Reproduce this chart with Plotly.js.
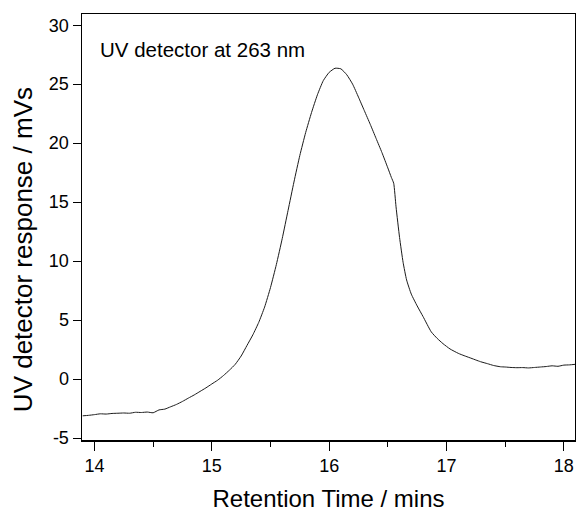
<!DOCTYPE html>
<html>
<head>
<meta charset="utf-8">
<script src="https://cdn.plot.ly/plotly-3.0.1.min.js"></script>
<style>html,body{margin:0;padding:0;background:#fff;}#chart{width:576px;height:516px;}</style>
</head>
<body>
<div id="chart"></div>
<script>
const retentionTime = [13.90,13.95,14.00,14.05,14.10,14.15,14.20,14.25,14.30,14.35,14.40,14.45,14.50,14.55,14.60,14.65,14.70,14.75,14.80,14.85,14.90,14.95,15.00,15.05,15.10,15.15,15.20,15.25,15.30,15.35,15.40,15.45,15.50,15.55,15.60,15.65,15.70,15.75,15.80,15.85,15.90,15.95,16.00,16.05,16.10,16.15,16.20,16.25,16.30,16.35,16.40,16.45,16.50,16.53,16.55,16.57,16.60,16.63,16.66,16.70,16.75,16.80,16.87,16.92,16.97,17.03,17.10,17.15,17.20,17.29,17.35,17.40,17.46,17.50,17.55,17.60,17.65,17.70,17.75,17.80,17.85,17.90,17.95,18.00,18.05,18.10];
const response = [-3.12,-3.08,-3.02,-2.95,-2.97,-2.92,-2.90,-2.88,-2.90,-2.82,-2.84,-2.80,-2.86,-2.62,-2.55,-2.35,-2.15,-1.90,-1.62,-1.35,-1.05,-0.75,-0.42,-0.10,0.30,0.75,1.25,1.95,2.85,3.75,4.80,6.10,7.75,9.70,11.90,14.30,16.70,18.95,20.90,22.60,24.10,25.30,26.00,26.35,26.30,25.80,25.00,23.90,22.75,21.60,20.40,19.20,17.90,17.10,16.60,14.60,12.00,9.90,8.40,7.20,6.20,5.30,4.00,3.45,3.00,2.55,2.18,1.98,1.80,1.47,1.30,1.15,1.04,1.02,0.98,0.96,0.97,0.94,0.98,1.02,1.06,1.12,1.08,1.18,1.20,1.25];
const xTickVals = [14,15,16,17,18];
const yTickVals = [-5,0,5,10,15,20,25,30];
const annotationText = 'UV detector at 263 nm';
const xTitle = 'Retention Time / mins';
const yTitle = 'UV detector response / mVs';

const font = 'Arial, "Liberation Sans", sans-serif';
Plotly.newPlot('chart', [{
  x: retentionTime, y: response, type: 'scatter', mode: 'lines',
  line: {color: '#1a1a1a', width: 1, shape: 'spline', smoothing: 0.5},
  hoverinfo: 'skip'
}], {
  width: 576, height: 516,
  margin: {l: 82, r: 1, t: 14, b: 76},
  paper_bgcolor: '#fff', plot_bgcolor: '#fff',
  showlegend: false,
  font: {family: font, color: '#000'},
  xaxis: {
    range: [13.894, 18.095], tickvals: xTickVals, ticktext: xTickVals.map(String),
    ticks: 'outside', ticklen: 9, tickwidth: 1, tickcolor: '#000',
    minor: {dtick: 0.5, tick0: 14, ticks: 'outside', ticklen: 5, tickwidth: 1, tickcolor: '#000', showgrid: false},
    showgrid: false, zeroline: false, showline: true, mirror: true, linecolor: '#000', linewidth: 1.5,
    tickfont: {size: 18, family: font},
    title: {text: xTitle, font: {size: 24, family: font}, standoff: 15}
  },
  yaxis: {
    range: [-5.17, 30.95], tickvals: yTickVals, ticktext: yTickVals.map(String),
    ticks: 'outside', ticklen: 8, tickwidth: 1, tickcolor: '#000',
    showgrid: false, zeroline: false, showline: true, mirror: true, linecolor: '#000', linewidth: 1.5,
    tickfont: {size: 18, family: font}
  },
  annotations: [{
    text: annotationText, xref: 'paper', yref: 'paper', x: 0.033, y: 0.9155,
    xanchor: 'left', yanchor: 'middle', showarrow: false, font: {size: 20.5, family: font}
  }, {
    text: yTitle, xref: 'paper', yref: 'paper', x: -0.1197, y: 0.448, textangle: -90,
    xanchor: 'center', yanchor: 'middle', showarrow: false, font: {size: 26, family: font}
  }]
}, {staticPlot: true});
</script>
</body>
</html>
